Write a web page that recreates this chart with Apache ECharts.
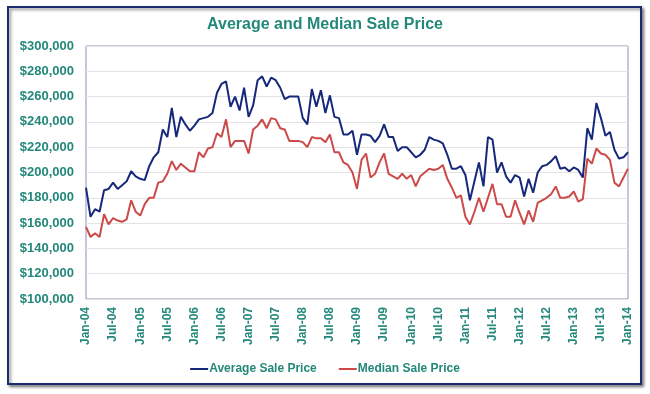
<!DOCTYPE html>
<html>
<head>
<meta charset="utf-8">
<script src="https://cdn.jsdelivr.net/npm/echarts@6/dist/echarts.min.js"></script>
<style>
html,body{margin:0;padding:0;background:#fff;}
#chart{width:650px;height:394px;}
</style>
</head>
<body>
<div id="chart"></div>
<script>
const months = ['Jan','Feb','Mar','Apr','May','Jun','Jul','Aug','Sep','Oct','Nov','Dec'];
const categories = [];
for (let y = 4; y <= 14; y++) {
  for (let m = 0; m < 12; m++) {
    if (y === 14 && m > 0) break;
    categories.push(months[m] + '-' + (y < 10 ? '0' + y : '' + y));
  }
}
const averageSalePrice = [
  188,165,171,169,186,187,192,187,190,193,201,197,
  195,194,205,212,216,234,228,251,228,244,238,233,
  237,242,243,244,247,263,270,272,252,260,249,267,
  244,253,273,276,268,275,273,267,258,260,260,260,
  243,238,266,252,265,247,261,244,243,230,230,233,
  214,230,230,229,224,229,238,228,228,217,220,220,
  216,212,214,218,228,226,225,223,214,203,203,205,
  198,178,193,208,189,228,226,200,208,197,192,198,
  196,181,195,184,200,205,206,209,213,203,204,201,
  204,202,196,235,226,255,243,229,232,218,211,212,
  216
].map(v => v * 1000);
const medianSalePrice = [
  157,149,152,149,167,159,164,162,161,163,178,169,
  166,175,180,180,192,193,199,209,202,207,204,201,
  201,216,212,219,220,231,228,242,220,225,225,225,
  215,234,237,242,235,243,242,235,234,225,225,225,
  224,220,228,227,227,224,230,216,216,208,206,200,
  187,210,215,196,199,208,215,199,197,195,199,195,
  198,189,197,200,203,202,203,206,195,188,180,182,
  165,159,169,180,169,180,191,175,175,165,165,178,
  168,159,170,161,176,178,180,183,189,180,180,181,
  185,177,179,211,207,219,215,214,210,192,189,196,
  203
].map(v => v * 1000);
const yTicks = { min: 100000, max: 300000, interval: 20000 };

const teal = '#23887a';
const font = 'Liberation Sans Narrow, Arial Narrow, sans-serif';
const chart = echarts.init(document.getElementById('chart'));
chart.setOption({
  backgroundColor: '#ffffff',
  animation: false,
  graphic: [{
    type: 'rect',
    z: -10,
    shape: { x: 8, y: 7, width: 633, height: 377 },
    style: {
      fill: '#ffffff', stroke: '#1c2b6b', lineWidth: 2,
      shadowBlur: 3, shadowOffsetX: 2, shadowOffsetY: 2, shadowColor: 'rgba(0,0,0,0.45)'
    }
  }],
  title: {
    text: 'Average and Median Sale Price',
    left: 'center',
    top: 12,
    textStyle: { color: teal, fontSize: 16, fontWeight: 'bold', fontFamily: font }
  },
  legend: {
    bottom: 14,
    left: 'center',
    itemWidth: 18,
    itemHeight: 2,
    itemGap: 22,
    icon: 'rect',
    textStyle: { color: teal, fontSize: 12, fontWeight: 'bold', fontFamily: font, padding: [0,0,0,-4] },
    data: ['Average Sale Price', 'Median Sale Price']
  },
  grid: {
    left: 86, right: 22, top: 46, bottom: 95,
    show: true, borderColor: '#8793b5', borderWidth: 1, backgroundColor: '#fff'
  },
  xAxis: {
    type: 'category',
    data: categories,
    boundaryGap: false,
    axisLine: { show: false },
    axisTick: { show: false },
    axisLabel: {
      interval: 5, rotate: 90, margin: 8,
      color: teal, fontSize: 12, fontWeight: 'bold', fontFamily: font
    },
    splitLine: { show: false }
  },
  yAxis: {
    type: 'value',
    min: yTicks.min, max: yTicks.max, interval: yTicks.interval,
    axisLine: { show: false },
    axisTick: { show: false },
    axisLabel: {
      margin: 12,
      color: teal, fontSize: 13, fontWeight: 'bold', fontFamily: font,
      formatter: v => '$' + v.toLocaleString('en-US')
    },
    splitLine: { lineStyle: { color: '#e3e3e3', width: 1 } }
  },
  series: [
    {
      name: 'Average Sale Price', type: 'line', data: averageSalePrice,
      showSymbol: false, symbol: 'none',
      lineStyle: { color: '#16287a', width: 2 }, itemStyle: { color: '#16287a' }
    },
    {
      name: 'Median Sale Price', type: 'line', data: medianSalePrice,
      showSymbol: false, symbol: 'none',
      lineStyle: { color: '#cc4a4a', width: 2 }, itemStyle: { color: '#cc4a4a' }
    }
  ]
});
</script>
</body>
</html>
